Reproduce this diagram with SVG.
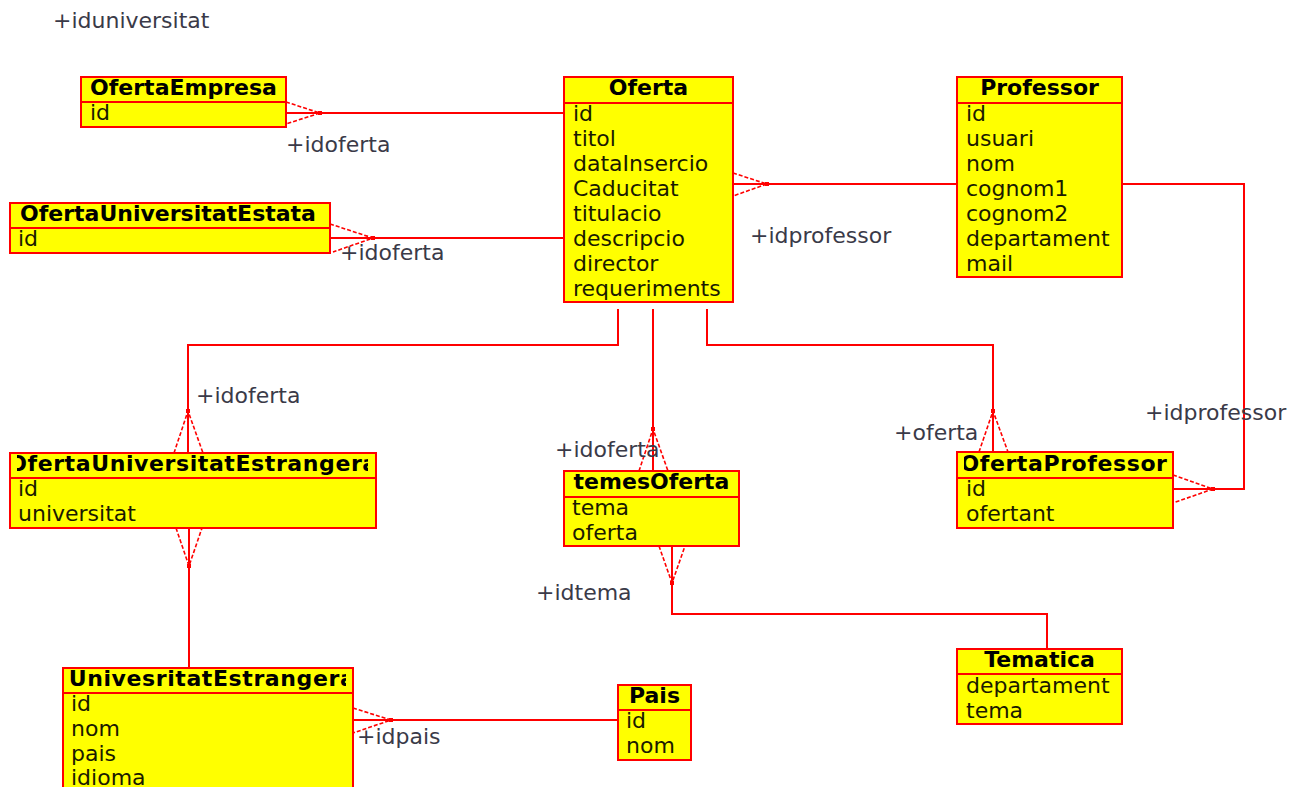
<svg xmlns="http://www.w3.org/2000/svg" width="1302" height="787" viewBox="0 0 1302 787">
  <style>
    .box { fill: #ffff00; stroke: #ff0000; stroke-width: 2; }
    .div { stroke: #ff0000; stroke-width: 2; }
    .hdr { font-family: "DejaVu Sans", sans-serif; font-size: 22px; font-weight: bold; fill: #000; text-anchor: middle; }
    .wide { letter-spacing: 0.6px; }
    .att { font-family: "DejaVu Sans", sans-serif; font-size: 22px; fill: #1a1a00; }
    .lbl { font-family: "DejaVu Sans", sans-serif; font-size: 22px; fill: #3a3a48; }
    .ln { fill: none; stroke: #ff0000; stroke-width: 2; }
    .ft { fill: none; stroke: #ff0000; stroke-width: 1.6; stroke-dasharray: 4 2; }
    .dot { fill: #ff0000; }
  </style>
  <defs>
    <!-- header clips keep long table names inside their boxes -->
    <clipPath id="c-oue"><rect x="17" y="453" width="351" height="25"/></clipPath>
    <clipPath id="c-op"><rect x="964" y="452" width="204" height="26"/></clipPath>
    <clipPath id="c-ue"><rect x="69" y="668" width="277" height="25"/></clipPath>
    <clipPath id="c-oe"><rect x="81" y="77" width="205" height="25"/></clipPath>
    <clipPath id="c-oes"><rect x="10" y="203" width="320" height="25"/></clipPath>
  </defs>

  <rect width="1302" height="787" fill="#ffffff"/>

  <!-- relations -->
  <g id="connectors">
    <!-- OfertaEmpresa - Oferta -->
    <line class="ln" x1="286" y1="113" x2="564" y2="113"/>
    <polyline class="ft" points="286,102 320,113 286,124"/>
    <rect class="dot" x="318" y="111" width="4" height="4"/>
    <text class="lbl" x="286" y="152">+idoferta</text>

    <!-- OfertaUniversitatEstata - Oferta -->
    <line class="ln" x1="330" y1="238" x2="564" y2="238"/>
    <polyline class="ft" points="330,224 373,238 333,252"/>
    <rect class="dot" x="371" y="236" width="4" height="4"/>
    <text class="lbl" x="340" y="260">+idoferta</text>

    <!-- Oferta - Professor -->
    <line class="ln" x1="733" y1="184" x2="957" y2="184"/>
    <polyline class="ft" points="733,173 767,184 733,196"/>
    <rect class="dot" x="765" y="182" width="4" height="4"/>
    <text class="lbl" x="750" y="243">+idprofessor</text>

    <!-- Oferta - OfertaUniversitatEstrangera -->
    <polyline class="ln" points="618,309 618,345 188,345 188,453"/>
    <polyline class="ft" points="174,453 188,411 203,453"/>
    <rect class="dot" x="186" y="409" width="4" height="4"/>
    <text class="lbl" x="196" y="403">+idoferta</text>

    <!-- Oferta - temesOferta -->
    <line class="ln" x1="653" y1="309" x2="653" y2="471"/>
    <polyline class="ft" points="639,471 653,429 668,471"/>
    <rect class="dot" x="651" y="427" width="4" height="4"/>
    <text class="lbl" x="555" y="457">+idoferta</text>

    <!-- Oferta - OfertaProfessor -->
    <polyline class="ln" points="707,309 707,345 993,345 993,452"/>
    <polyline class="ft" points="979,452 993,411 1008,452"/>
    <rect class="dot" x="991" y="409" width="4" height="4"/>
    <text class="lbl" x="894" y="440">+oferta</text>

    <!-- Professor - OfertaProfessor -->
    <polyline class="ln" points="1122,184 1244,184 1244,489 1173,489"/>
    <polyline class="ft" points="1173,475 1213,489 1173,503"/>
    <rect class="dot" x="1211" y="487" width="4" height="4"/>
    <text class="lbl" x="1145" y="420">+idprofessor</text>

    <!-- OfertaUniversitatEstrangera - UnivesritatEstrangera -->
    <line class="ln" x1="189" y1="528" x2="189" y2="668"/>
    <polyline class="ft" points="176,528 189,566 202,528"/>
    <rect class="dot" x="187" y="564" width="4" height="4"/>
    <text class="lbl" x="53" y="28">+iduniversitat</text>

    <!-- temesOferta - Tematica -->
    <polyline class="ln" points="672,546 672,614 1047,614 1047,649"/>
    <polyline class="ft" points="659,546 672,583 685,546"/>
    <rect class="dot" x="670" y="581" width="4" height="4"/>
    <text class="lbl" x="536" y="600">+idtema</text>

    <!-- UnivesritatEstrangera - Pais -->
    <line class="ln" x1="353" y1="720" x2="618" y2="720"/>
    <polyline class="ft" points="353,708 391,720 353,733"/>
    <rect class="dot" x="389" y="718" width="4" height="4"/>
    <text class="lbl" x="357" y="744">+idpais</text>
  </g>

  <g id="OfertaEmpresa">
    <rect class="box" x="81" y="77" width="205" height="50"/>
    <line class="div" x1="81" y1="102" x2="286" y2="102"/>
    <g clip-path="url(#c-oe)"><text class="hdr" x="183.5" y="95">OfertaEmpresa</text></g>
    <text class="att" x="90" y="120">id</text>
  </g>

  <g id="OfertaUniversitatEstata">
    <rect class="box" x="10" y="203" width="320" height="50"/>
    <line class="div" x1="10" y1="228" x2="330" y2="228"/>
    <g clip-path="url(#c-oes)"><text class="hdr" x="168" y="221">OfertaUniversitatEstata</text></g>
    <text class="att" x="18" y="246">id</text>
  </g>

  <g id="Oferta">
    <rect class="box" x="564" y="77" width="169" height="225"/>
    <line class="div" x1="564" y1="103" x2="733" y2="103"/>
    <text class="hdr" x="648.5" y="95">Oferta</text>
    <text class="att" x="573" y="121">id</text>
    <text class="att" x="573" y="146">titol</text>
    <text class="att" x="573" y="171">dataInsercio</text>
    <text class="att" x="573" y="196">Caducitat</text>
    <text class="att" x="573" y="221">titulacio</text>
    <text class="att" x="573" y="246">descripcio</text>
    <text class="att" x="573" y="271">director</text>
    <text class="att" x="573" y="296">requeriments</text>
  </g>

  <g id="Professor">
    <rect class="box" x="957" y="77" width="165" height="200"/>
    <line class="div" x1="957" y1="103" x2="1122" y2="103"/>
    <text class="hdr" x="1039.5" y="95">Professor</text>
    <text class="att" x="966" y="121">id</text>
    <text class="att" x="966" y="146">usuari</text>
    <text class="att" x="966" y="171">nom</text>
    <text class="att" x="966" y="196">cognom1</text>
    <text class="att" x="966" y="221">cognom2</text>
    <text class="att" x="966" y="246">departament</text>
    <text class="att" x="966" y="271">mail</text>
  </g>

  <g id="OfertaUniversitatEstrangera">
    <rect class="box" x="10" y="453" width="366" height="75"/>
    <line class="div" x1="10" y1="478" x2="376" y2="478"/>
    <g clip-path="url(#c-oue)"><text class="hdr wide" x="193" y="471">OfertaUniversitatEstrangera</text></g>
    <text class="att" x="18" y="496">id</text>
    <text class="att" x="18" y="521">universitat</text>
  </g>

  <g id="temesOferta">
    <rect class="box" x="564" y="471" width="175" height="75"/>
    <line class="div" x1="564" y1="497" x2="739" y2="497"/>
    <text class="hdr" x="651.5" y="489">temesOferta</text>
    <text class="att" x="572" y="515">tema</text>
    <text class="att" x="572" y="540">oferta</text>
  </g>

  <g id="OfertaProfessor">
    <rect class="box" x="957" y="452" width="216" height="76"/>
    <line class="div" x1="957" y1="478" x2="1173" y2="478"/>
    <g clip-path="url(#c-op)"><text class="hdr wide" x="1064" y="471">OfertaProfessor</text></g>
    <text class="att" x="966" y="496">id</text>
    <text class="att" x="966" y="521">ofertant</text>
  </g>

  <g id="Tematica">
    <rect class="box" x="957" y="649" width="165" height="75"/>
    <line class="div" x1="957" y1="674" x2="1122" y2="674"/>
    <text class="hdr" x="1039.5" y="667">Tematica</text>
    <text class="att" x="966" y="693">departament</text>
    <text class="att" x="966" y="718">tema</text>
  </g>

  <g id="UnivesritatEstrangera">
    <rect class="box" x="63" y="668" width="290" height="130"/>
    <line class="div" x1="63" y1="693" x2="353" y2="693"/>
    <g clip-path="url(#c-ue)"><text class="hdr wide" x="212" y="686">UnivesritatEstrangera</text></g>
    <text class="att" x="71" y="711">id</text>
    <text class="att" x="71" y="736">nom</text>
    <text class="att" x="71" y="761">pais</text>
    <text class="att" x="71" y="785">idioma</text>
  </g>

  <g id="Pais">
    <rect class="box" x="618" y="685" width="73" height="75"/>
    <line class="div" x1="618" y1="710" x2="691" y2="710"/>
    <text class="hdr" x="654.5" y="703">Pais</text>
    <text class="att" x="626" y="728">id</text>
    <text class="att" x="626" y="753">nom</text>
  </g>
</svg>
